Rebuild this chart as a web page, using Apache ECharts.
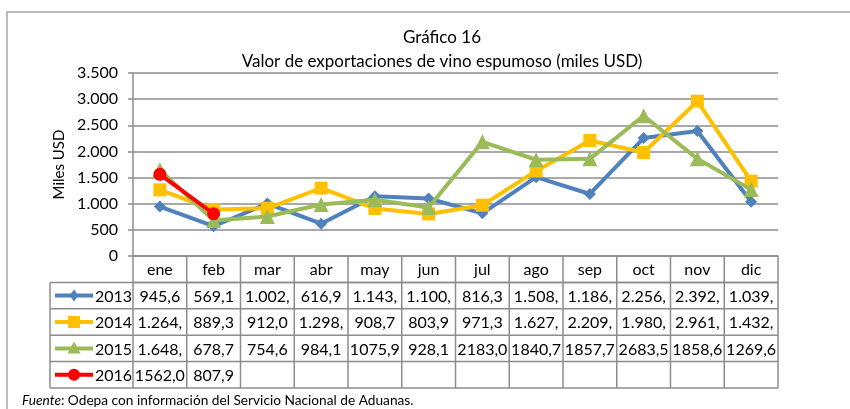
<!DOCTYPE html>
<html><head><meta charset="utf-8">
<script src="https://cdn.jsdelivr.net/npm/echarts@6/dist/echarts.min.js"></script>
<style>html,body{margin:0;padding:0;background:#fff}#c{width:850px;height:409px}</style>
</head><body><div id="c"></div>
<script>
const months = ['ene','feb','mar','abr','may','jun','jul','ago','sep','oct','nov','dic'];
const years = ['2013','2014','2015','2016'];
const s2013 = [945.6,569.1,1002,616.9,1143,1100,816.3,1508,1186,2256,2392,1039];
const s2014 = [1264,889.3,912.0,1298,908.7,803.9,971.3,1627,2209,1980,2961,1432];
const s2015 = [1648,678.7,754.6,984.1,1075.9,928.1,2183.0,1840.7,1857.7,2683.5,1858.6,1269.6];
const s2016 = [1562.0,807.9];
const cells2013 = ['945,6','569,1','1.002,','616,9','1.143,','1.100,','816,3','1.508,','1.186,','2.256,','2.392,','1.039,'];
const cells2014 = ['1.264,','889,3','912,0','1.298,','908,7','803,9','971,3','1.627,','2.209,','1.980,','2.961,','1.432,'];
const cells2015 = ['1.648,','678,7','754,6','984,1','1075,9','928,1','2183,0','1840,7','1857,7','2683,5','1858,6','1269,6'];
const cells2016 = ['1562,0','807,9'];
const colors = ['#4F81BD','#FFC000','#9BBB59','#FF0000'];
const symbols = ['diamond','rect','triangle','circle'];
const symbolSizes = [12,13,15,13];

const FONT = 'Lato';
const chart = echarts.init(document.getElementById('c'), null, {renderer:'canvas'});
const seriesData = [s2013,s2014,s2015,s2016];
const cellData = [cells2013,cells2014,cells2015,cells2016];

chart.setOption({
  animation:false,
  textStyle:{fontFamily:FONT},
  title:{
    text:'Gráfico 16\nValor de exportaciones de vino espumoso (miles USD)',
    left:437, top:21, textAlign:'center',
    textStyle:{fontFamily:FONT,fontSize:17,fontWeight:'normal',color:'#000',lineHeight:24}
  },
  grid:{left:133,right:72,top:73,bottom:153,containLabel:false},
  xAxis:{
    type:'category', data:months, boundaryGap:true,
    axisLine:{lineStyle:{color:'#8c8c8c',width:1.5}},
    axisTick:{show:false}, axisLabel:{show:false}
  },
  yAxis:{
    type:'value', min:0, max:3500, interval:500,
    name:'Miles USD', nameLocation:'middle', nameRotate:90, nameGap:60,
    nameTextStyle:{fontFamily:FONT,fontSize:15,color:'#000'},
    axisLine:{show:true,lineStyle:{color:'#8c8c8c',width:1.5}},
    axisTick:{show:true,length:5,lineStyle:{color:'#8c8c8c',width:1.5}},
    splitLine:{lineStyle:{color:'#8c8c8c',width:1.5}},
    axisLabel:{fontFamily:FONT,fontSize:16,color:'#000',margin:15,
      formatter:v=>String(v).replace(/\B(?=(\d{3})+(?!\d))/g,'.')}
  },
  series: years.map((y,i)=>({
    name:y, type:'line', data:seriesData[i],
    symbol:symbols[i], symbolSize:symbolSizes[i], showAllSymbol:true,
    lineStyle:{color:colors[i],width:4},
    itemStyle:{color:colors[i]},
    z:2+i
  }))
});

function drawTable(){
  const cx = months.map((m,i)=>chart.convertToPixel({xAxisIndex:0}, m));
  const step = cx[1]-cx[0];
  const bounds = [cx[0]-step/2].concat(cx.map(c=>c+step/2));
  const y0 = chart.convertToPixel({yAxisIndex:0}, 0);
  const rowH = 26.4;
  const rows = [y0, y0+rowH, y0+2*rowH, y0+3*rowH, y0+4*rowH, y0+5*rowH];
  const legL = 50;
  const gc = '#8c8c8c', lw = 1.5;
  const els = [];
  const line = (x1,y1,x2,y2)=>els.push({type:'line',shape:{x1,y1,x2,y2},style:{stroke:gc,lineWidth:lw},z:10});
  // outer frame
  els.push({type:'polyline',shape:{points:[[7,409],[7,12],[850,12]]},style:{stroke:'#a6a6a6',lineWidth:1.5,fill:null},z:10});
  // horizontal lines
  line(bounds[0], rows[1], bounds[12], rows[1]);
  for(let r=1;r<rows.length;r++) line(legL, rows[r], bounds[12], rows[r]);
  // vertical lines
  for(let b=0;b<bounds.length;b++) line(bounds[b], y0, bounds[b], rows[5]);
  line(legL, rows[1], legL, rows[5]);
  // header texts
  months.forEach((m,i)=>els.push({type:'text',x:cx[i],y:(rows[0]+rows[1])/2+1,
    style:{text:m,fontFamily:FONT,fontSize:16,fill:'#000',align:'center',verticalAlign:'middle'},z:11}));
  // rows
  years.forEach((yr,r)=>{
    const ym = (rows[r+1]+rows[r+2])/2+1;
    const col = colors[r];
    els.push({type:'line',shape:{x1:55,y1:ym-1,x2:93,y2:ym-1},style:{stroke:col,lineWidth:4},z:11});
    const mx=74, my=ym-1;
    if(symbols[r]==='diamond') els.push({type:'polygon',shape:{points:[[mx,my-6],[mx+4.5,my],[mx,my+6],[mx-4.5,my]]},style:{fill:col},z:12});
    if(symbols[r]==='rect') els.push({type:'rect',shape:{x:mx-6,y:my-6,width:12,height:12},style:{fill:col},z:12});
    if(symbols[r]==='triangle') els.push({type:'polygon',shape:{points:[[mx,my-7],[mx+6.5,my+5],[mx-6.5,my+5]]},style:{fill:col},z:12});
    if(symbols[r]==='circle') els.push({type:'circle',shape:{cx:mx,cy:my,r:6},style:{fill:col},z:12});
    els.push({type:'text',x:95,y:ym,style:{text:yr,fontFamily:FONT,fontSize:16,fill:'#000',align:'left',verticalAlign:'middle'},z:11});
    cellData[r].forEach((t,i)=>els.push({type:'text',x:cx[i],y:ym,
      style:{text:t,fontFamily:FONT,fontSize:16,fill:'#000',align:'center',verticalAlign:'middle'},z:11}));
  });
  // footer
  els.push({type:'text',x:22,y:401,style:{
    text:'{i|Fuente}: Odepa con información del Servicio Nacional de Aduanas.',
    fontFamily:FONT,fontSize:13.7,fill:'#000',verticalAlign:'middle',
    rich:{i:{fontFamily:FONT,fontSize:13.7,fontStyle:'italic',fill:'#000'}}},z:11});
  chart.setOption({graphic:els});
}
drawTable();
</script></body></html>
